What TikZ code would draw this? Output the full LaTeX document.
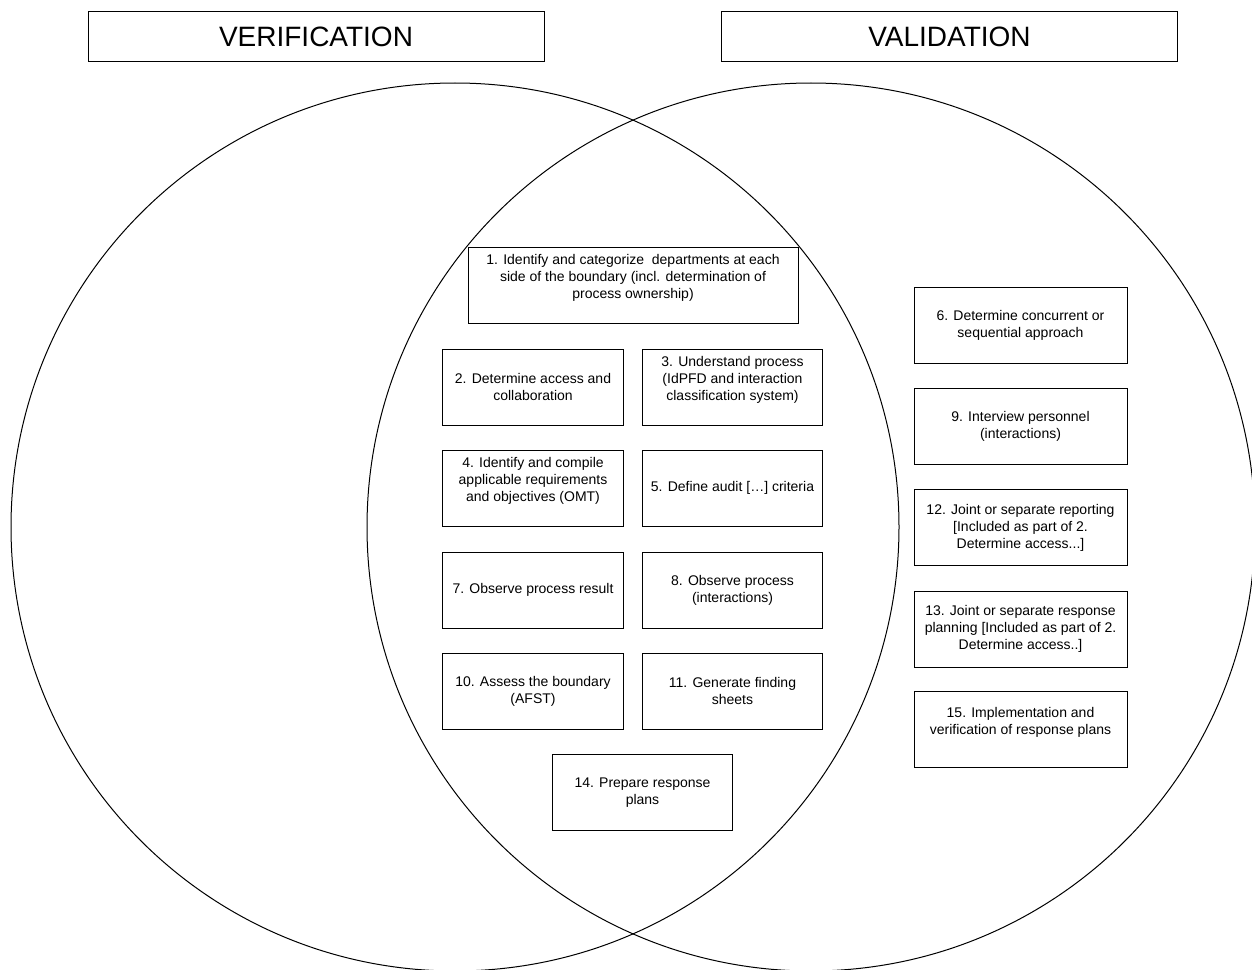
\documentclass[tikz,border=0pt]{standalone}
\usepackage{fontspec}
\setmainfont{Liberation Sans}

\begin{document}
\begin{tikzpicture}[x = 0.75pt , y = -0.75pt ,
    stepbox/.style = {draw , line width = 0.75pt , align = center , inner sep = 2pt , minimum height = 57pt , font = \fontsize{10.5}{12.75}\selectfont},
    midbox/.style = {stepbox , minimum width = 135.5pt},
    sidebox/.style = {stepbox , minimum width = 159.75pt},
    titlebox/.style = {draw , line width = 0.75pt , minimum width = 342pt , minimum height = 37.5pt , font = \fontsize{21}{25}\selectfont}]
    \useasboundingbox (0,0) rectangle (1252,970);
    \draw[line width = 0.75pt] (455,527) circle (333pt); % verification
    \draw[line width = 0.75pt] (811,527) circle (333pt); % validation
    \node[titlebox] (ver) at (316,37) {VERIFICATION};
    \node[titlebox] (val) at (949.5,37) {VALIDATION};
    % overlap
    \node[stepbox , minimum width = 247.5pt] (s1) at (633,285) {1. Identify and categorize\ \ departments at each\\ side of the boundary (incl. determination of\\ process ownership)\\ \mbox{}};
    \node[midbox] (s2) at (533,387) {2. Determine access and\\ collaboration};
    \node[midbox] (s3) at (732.5,387) {3. Understand process\\ (IdPFD and interaction\\ classification system)\\ \mbox{}};
    \node[midbox] (s4) at (533,488) {4. Identify and compile\\ applicable requirements\\ and objectives (OMT)\\ \mbox{}};
    \node[midbox] (s5) at (732.5,488) {5. Define audit […] criteria};
    \node[midbox] (s7) at (533,590) {7. Observe process result};
    \node[midbox] (s8) at (732.5,590) {8. Observe process\\ (interactions)};
    \node[midbox] (s10) at (533,691) {10. Assess the boundary\\ (AFST)};
    \node[midbox] (s11) at (732.5,691) {11. Generate finding\\ sheets};
    \node[midbox] (s14) at (642.5,792.5) {14. Prepare response\\ plans};
    % validation only
    \node[sidebox] (s6) at (1020.5,325) {6. Determine concurrent or\\ sequential approach};
    \node[sidebox] (s9) at (1020.5,426) {9. Interview personnel\\ (interactions)};
    \node[sidebox] (s12) at (1020.5,527.5) {12. Joint or separate reporting\\ {[}Included as part of 2.\\ Determine access...]};
    \node[sidebox] (s13) at (1020.5,629) {13. Joint or separate response\\ planning [Included as part of 2.\\ Determine access..]};
    \node[sidebox] (s15) at (1020.5,729) {15. Implementation and\\ verification of response plans\\ \mbox{}};
\end{tikzpicture}
\end{document}
